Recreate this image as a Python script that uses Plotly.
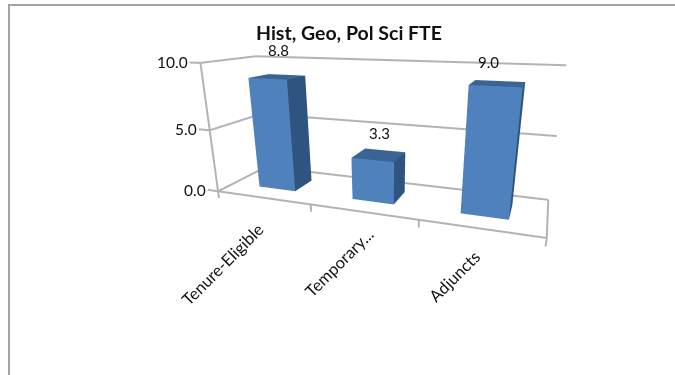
import plotly.graph_objects as go

categories = ["Tenure-Eligible", "Temporary...", "Adjuncts"]
values = [8.8, 3.3, 9.0]
value_ticks = [0, 5, 10]
value_tick_labels = ["0.0", "5.0", "10.0"]
title_text = "Hist, Geo, Pol Sci FTE"

WIN_W, WIN_H = 675, 375
X_R = [-0.12, 3.03]
Y_R = [-0.03, 1.03]
Z_R = [-0.6, 10.1]

FACE = "#4f81bd"; SIDE = "#2f5480"; TOP = "#3a6494"; GRID = "#b3b3b3"
FONT = "Lato"; TC = "#111111"; BORDER = "#a3a3a3"

fig = go.Figure()

def line(xs, ys, zs, w=4):
    fig.add_trace(go.Scatter3d(x=xs, y=ys, z=zs, mode="lines",
                               line=dict(color=GRID, width=w),
                               hoverinfo="skip", showlegend=False))

n = len(categories)
for t in value_ticks:
    line([X_R[0], 0, 0, n], [0, 0, 1, 1], [t, t, t, t])
line([0, 0], [0, 0], [0, max(value_ticks)])
line([n, n, 0], [1, 0, 0], [0, 0, 0])
for i in range(n + 1):
    line([i, i], [0, 0], [0, Z_R[0]])

bw = 0.4; y0, y1 = 0.3, 0.7

def box(i, v):
    a, b = i + .5 - bw / 2, i + .5 + bw / 2
    xs = [a, b, b, a, a, b, b, a]
    ys = [y0, y0, y1, y1, y0, y0, y1, y1]
    zs = [0, 0, 0, 0, v, v, v, v]
    I = [0, 0, 1, 1, 4, 4, 3, 3, 0, 0, 0, 0]
    J = [1, 5, 2, 6, 5, 6, 2, 6, 3, 7, 1, 2]
    K = [5, 4, 6, 5, 6, 7, 6, 7, 7, 4, 2, 3]
    cols = [FACE, FACE, SIDE, SIDE, TOP, TOP, SIDE, SIDE, SIDE, SIDE, SIDE, SIDE]
    fig.add_trace(go.Mesh3d(x=xs, y=ys, z=zs, i=I, j=J, k=K, facecolor=cols, flatshading=True,
                            lighting=dict(ambient=1, diffuse=0, specular=0, fresnel=0, roughness=1),
                            hoverinfo="skip", showlegend=False))

for i, v in enumerate(values):
    box(i, v)

ann = []
for t, l in zip(value_ticks, value_tick_labels):
    ann.append(dict(x=X_R[0], y=0, z=t, text=l, showarrow=False, xanchor="right", yanchor="middle",
                    xshift=1, font=dict(family=FONT, size=15.5, color=TC)))
cat_shifts = [(-40, -67), (-23, -51), (-24, -48)]
for c, l in enumerate(categories):
    ann.append(dict(x=c + .5, y=0, z=0, text=l, showarrow=False, textangle=-45, xanchor="center",
                    yanchor="middle", xshift=cat_shifts[c][0], yshift=cat_shifts[c][1],
                    font=dict(family=FONT, size=16.5, color=TC)))
val_shifts = [(2, 27), (1, 22), (-8, 22)]
for i, v in enumerate(values):
    ann.append(dict(x=i + .5, y=.5, z=v, text=f"{v:.1f}", showarrow=False, xanchor="center",
                    yanchor="middle", xshift=val_shifts[i][0], yshift=val_shifts[i][1],
                    font=dict(family=FONT, size=15, color=TC)))

ax = dict(visible=False, showgrid=False, zeroline=False, showspikes=False)
fig.update_layout(
    width=WIN_W, height=WIN_H, margin=dict(l=0, r=0, t=0, b=0), paper_bgcolor="white",
    font=dict(family=FONT), showlegend=False,
    shapes=[dict(type="path", xref="paper", yref="paper",
                 path=f"M {9/WIN_W} 0 L {9/WIN_W} {1-5/WIN_H} L 1 {1-5/WIN_H}",
                 line=dict(color=BORDER, width=2))],
    annotations=[dict(xref="paper", yref="paper", x=349 / WIN_W, y=1 - 32 / WIN_H, xanchor="center",
                      yanchor="middle", showarrow=False, text=f"<b>{title_text}</b>",
                      font=dict(family=FONT, size=19.5, color=TC))],
    scene=dict(
        domain=dict(x=[0.14, 1.0], y=[0, 1]),
        aspectmode="manual",
        aspectratio=dict(x=6.234, y=1.725, z=2.531),
        camera=dict(eye=dict(x=2.805, y=-7.358, z=1.929), center=dict(x=0.263, y=-0.138, z=-0.897),
                    up=dict(x=0, y=0, z=1), projection=dict(type="perspective")),
        xaxis=dict(range=X_R, **ax), yaxis=dict(range=Y_R, **ax), zaxis=dict(range=Z_R, **ax),
        annotations=ann))

fig.write_html("out.html", config=dict(displayModeBar=False),
               post_script="document.body.style.margin='0';document.documentElement.style.overflow='hidden';")
